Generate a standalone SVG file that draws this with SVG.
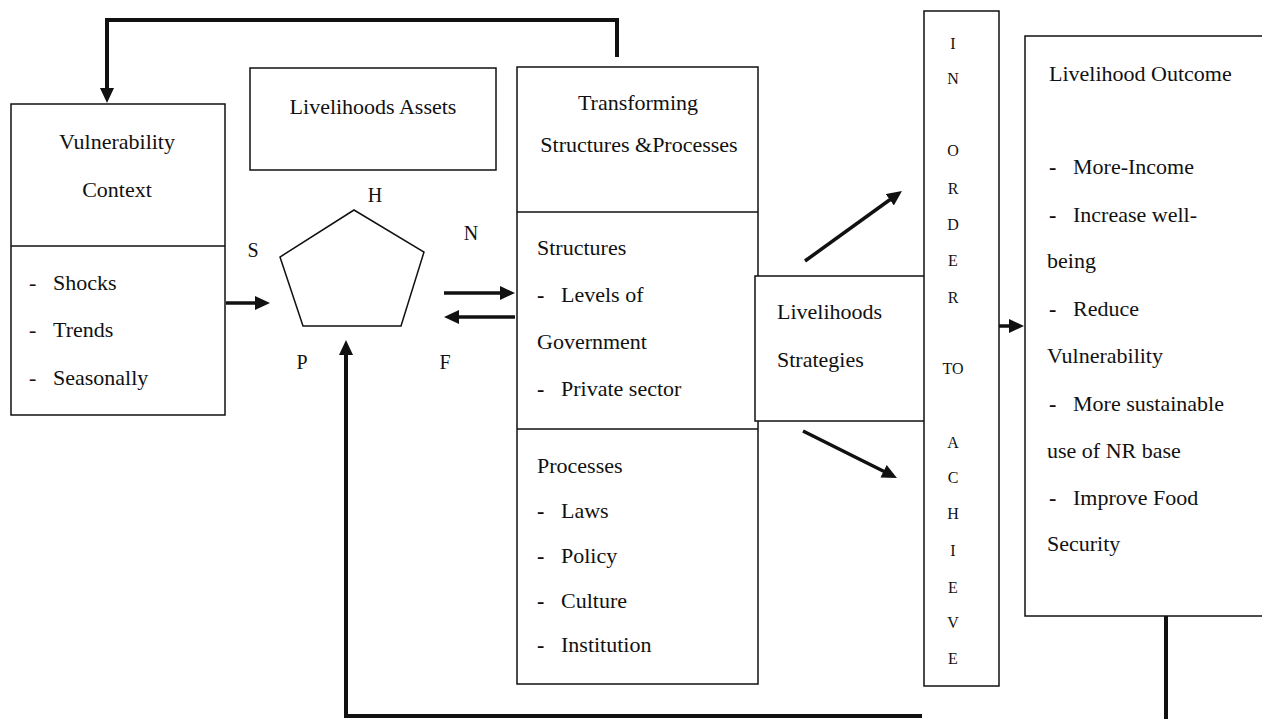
<svg xmlns="http://www.w3.org/2000/svg" width="1262" height="719" viewBox="0 0 1262 719">
<style>
  text { font-family: "Liberation Serif", "Times New Roman", serif; font-size: 22px; fill: #111; }
  .c { text-anchor: middle; }
  .lt { font-size: 16px; text-anchor: middle; }
  .lab { font-size: 20px; text-anchor: middle; }
  .box { fill: #fff; stroke: #111; stroke-width: 1.5; }
  .ln { fill: none; stroke: #111; stroke-width: 1.5; }
  .arr { fill: none; stroke: #111; stroke-width: 3.5; marker-end: url(#ah); }
  .fb { fill: none; stroke: #111; stroke-width: 4; }
  .d { font-weight: bold; }
</style>
<defs>
  <marker id="ah" markerUnits="userSpaceOnUse" viewBox="0 0 15 14" refX="9" refY="7" markerWidth="15" markerHeight="14" orient="auto">
    <path d="M0,0 L15,7 L0,14 Z" fill="#111"/>
  </marker>
</defs>
<rect width="1262" height="719" fill="#fff"/>

<g id="vulnerability-context">
  <rect class="box" x="11" y="104" width="214" height="311"/>
  <line class="ln" x1="11" y1="246" x2="225" y2="246"/>
  <text class="c" x="117" y="149">Vulnerability</text>
  <text class="c" x="117" y="197">Context</text>
  <text x="29" y="290">- <tspan x="53">Shocks</tspan></text>
  <text x="29" y="337">- <tspan x="53">Trends</tspan></text>
  <text x="29" y="385">- <tspan x="53">Seasonally</tspan></text>
</g>

<g id="livelihoods-assets">
  <rect class="box" x="250" y="68" width="246" height="102"/>
  <text class="c" x="373" y="114">Livelihoods Assets</text>
</g>

<g id="asset-pentagon">
  <polygon class="ln" points="354,210 424,252 401,326 303,326 280,257"/>
  <text class="lab" x="375" y="202">H</text>
  <text class="lab" x="253" y="257">S</text>
  <text class="lab" x="471" y="240">N</text>
  <text class="lab" x="302" y="369">P</text>
  <text class="lab" x="445" y="369">F</text>
</g>

<g id="transforming-structures">
  <rect class="box" x="517" y="67" width="241" height="617"/>
  <line class="ln" x1="517" y1="212" x2="758" y2="212"/>
  <line class="ln" x1="517" y1="429" x2="758" y2="429"/>
  <text class="c" x="638" y="110">Transforming</text>
  <text class="c" x="639" y="152">Structures &amp;Processes</text>
  <text x="537" y="255">Structures</text>
  <text x="537" y="302"><tspan class="d">-</tspan> <tspan x="561">Levels of</tspan></text>
  <text x="537" y="349">Government</text>
  <text x="537" y="396"><tspan class="d">-</tspan> <tspan x="561">Private sector</tspan></text>
  <text x="537" y="473">Processes</text>
  <text x="537" y="518"><tspan class="d">-</tspan> <tspan x="561">Laws</tspan></text>
  <text x="537" y="563"><tspan class="d">-</tspan> <tspan x="561">Policy</tspan></text>
  <text x="537" y="608"><tspan class="d">-</tspan> <tspan x="561">Culture</tspan></text>
  <text x="537" y="652"><tspan class="d">-</tspan> <tspan x="561">Institution</tspan></text>
</g>

<g id="livelihoods-strategies">
  <rect class="box" x="755" y="276" width="170" height="145"/>
  <text x="777" y="319">Livelihoods</text>
  <text x="777" y="367">Strategies</text>
</g>

<g id="in-order-to-achieve">
  <rect class="box" x="924" y="11" width="75" height="675"/>
  <text class="lt" x="953" y="49">I</text>
  <text class="lt" x="953" y="84">N</text>
  <text class="lt" x="953" y="156">O</text>
  <text class="lt" x="953" y="194">R</text>
  <text class="lt" x="953" y="230">D</text>
  <text class="lt" x="953" y="266">E</text>
  <text class="lt" x="953" y="303">R</text>
  <text class="lt" x="953" y="374">TO</text>
  <text class="lt" x="953" y="448">A</text>
  <text class="lt" x="953" y="483">C</text>
  <text class="lt" x="953" y="519">H</text>
  <text class="lt" x="953" y="556">I</text>
  <text class="lt" x="953" y="593">E</text>
  <text class="lt" x="953" y="628">V</text>
  <text class="lt" x="953" y="664">E</text>
</g>

<g id="livelihood-outcome">
  <rect class="box" x="1025" y="36" width="270" height="580"/>
  <text x="1049" y="81">Livelihood Outcome</text>
  <text x="1049" y="174"><tspan class="d">-</tspan> <tspan x="1073">More-Income</tspan></text>
  <text x="1049" y="222"><tspan class="d">-</tspan> <tspan x="1073">Increase well-</tspan></text>
  <text x="1047" y="268">being</text>
  <text x="1049" y="316"><tspan class="d">-</tspan> <tspan x="1073">Reduce</tspan></text>
  <text x="1047" y="363">Vulnerability</text>
  <text x="1049" y="411"><tspan class="d">-</tspan> <tspan x="1073">More sustainable</tspan></text>
  <text x="1047" y="458">use of NR base</text>
  <text x="1049" y="505"><tspan class="d">-</tspan> <tspan x="1073">Improve Food</tspan></text>
  <text x="1047" y="551">Security</text>
</g>

<g id="connectors">
  <path class="fb" d="M617,57 V20 H107 V97" marker-end="url(#ah)"/>
  <line class="arr" x1="226" y1="303" x2="264" y2="303"/>
  <line class="arr" x1="444" y1="293" x2="509" y2="293"/>
  <line class="arr" x1="515" y1="317" x2="450" y2="317"/>
  <line class="arr" x1="805" y1="261" x2="897.1" y2="194.5"/>
  <line class="arr" x1="803" y1="431" x2="891.6" y2="475.3"/>
  <line class="arr" x1="999" y1="326" x2="1018" y2="326"/>
  <line class="fb" x1="1166" y1="616" x2="1166" y2="719"/>
  <path class="fb" d="M922,716 H346 V346" marker-end="url(#ah)"/>
</g>
</svg>
